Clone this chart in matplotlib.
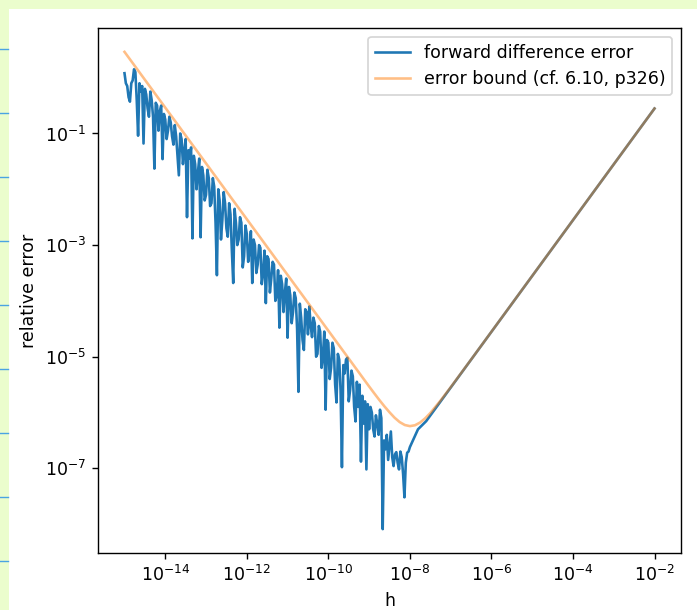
import numpy as np
import matplotlib
matplotlib.use("Agg")
import matplotlib.pyplot as plt
from matplotlib.patches import Rectangle
from matplotlib.lines import Line2D
from matplotlib.ticker import NullLocator

# step sizes for the noisy part: 1e-15 .. 1e-8, 30 per decade
h_noisy = np.logspace(-15, -8, 211)
err_log10_noisy = [
    0.08, -0.10, -0.15, -0.35, -0.43, -0.10, -0.05, 0.15, 0.10, -0.40,
    -1.04, -0.10, -0.25, -0.15, -1.18, -0.20, -0.30, -0.55, -0.70, -0.25,
    -0.40, -0.70, -1.63, -0.45, -0.50, -0.95, -0.60, -0.50, -1.46, -0.65,
    -0.75, -1.10, -0.95, -0.70, -0.80, -1.05, -1.20, -0.85, -1.05, -1.40,
    -1.75, -1.00, -1.10, -1.55, -1.30, -1.10, -2.50, -1.30, -1.45, -1.25,
    -2.88, -1.40, -1.55, -2.00, -1.70, -1.45, -2.86, -1.60, -1.75, -2.20,
    -2.10, -1.65, -1.80, -2.30, -2.25, -1.80, -1.95, -2.60, -3.54, -2.00,
    -2.20, -2.90, -2.55, -2.05, -2.25, -2.70, -2.85, -2.25, -2.45, -3.10,
    -3.68, -2.35, -2.60, -3.00, -2.90, -2.50, -2.60, -3.40, -3.20, -2.65,
    -2.80, -3.30, -3.10, -2.75, -3.68, -2.90, -3.00, -3.50, -3.35, -3.00,
    -3.05, -3.70, -3.50, -3.10, -4.04, -3.20, -3.25, -3.85, -3.60, -3.30,
    -3.35, -4.00, -3.90, -3.45, -4.48, -3.55, -3.70, -4.20, -3.85, -3.60,
    -4.66, -3.75, -3.90, -4.40, -4.20, -3.85, -3.95, -4.50, -5.63, -4.05,
    -4.30, -4.70, -4.88, -4.15, -4.20, -4.60, -4.10, -4.45, -4.65, -4.30,
    -4.40, -5.00, -4.95, -4.45, -4.55, -5.20, -5.00, -4.55, -5.95, -4.70,
    -4.75, -5.40, -5.20, -4.75, -4.85, -5.50, -5.82, -4.95, -5.05, -5.60,
    -6.98, -5.15, -5.30, -5.05, -5.02, -5.80, -5.60, -5.25, -5.35, -5.90,
    -6.16, -5.45, -5.90, -5.50, -6.88, -5.70, -6.20, -5.80, -7.02, -5.85,
    -6.30, -5.90, -6.00, -6.30, -6.43, -6.05, -6.20, -6.40, -5.95, -6.10,
    -8.09, -6.50, -6.66, -6.40, -6.85, -6.60, -6.34, -6.80, -6.96, -6.75,
    -6.71, -6.90, -7.02, -6.70, -6.80, -7.10, -7.52, -6.90, -6.72, -6.70,
    -6.62,
]
# smooth part where truncation error dominates
h_tail = [1.58e-8, 2.51e-8, 3.98e-8, 6.31e-8, 1e-7, 3.16e-7, 1e-6, 3.16e-6,
          1e-5, 3.16e-5, 1e-4, 3.16e-4, 1e-3, 3.16e-3, 1e-2]
err_tail = [5.0e-7, 7.0e-7, 1.11e-6, 1.76e-6, 2.8e-6, 8.85e-6, 2.8e-5, 8.85e-5,
            2.8e-4, 8.85e-4, 2.8e-3, 8.85e-3, 2.8e-2, 8.85e-2, 0.28]

# error bound curve
h_bound = [1e-15, 1e-9, 1.334e-9, 1.778e-9, 2.371e-9, 3.162e-9, 4.217e-9,
           5.623e-9, 7.499e-9, 1e-8, 1.334e-8, 1.778e-8, 2.371e-8, 3.162e-8,
           5.623e-8, 1e-7, 3.162e-7, 1e-6, 1e-2]
err_bound = [2.9, 2.93e-6, 2.21e-6, 1.68e-6, 1.29e-6, 1.01e-6, 8.06e-7,
             6.73e-7, 5.97e-7, 5.70e-7, 5.91e-7, 6.61e-7, 7.86e-7, 9.77e-7,
             1.63e-6, 2.83e-6, 8.86e-6, 2.80e-5, 0.28]

x_ticks = [1e-14, 1e-12, 1e-10, 1e-8, 1e-6, 1e-4, 1e-2]
y_ticks = [1e-1, 1e-3, 1e-5, 1e-7]

h_all = np.concatenate([h_noisy, h_tail])
err_all = np.concatenate([10.0 ** np.array(err_log10_noisy), err_tail])

W, H, DPI = 697, 610, 125
fig = plt.figure(figsize=(W / DPI, H / DPI), dpi=DPI, facecolor='#ebfdcd')
fig.patches.append(Rectangle((9 / W, 0), 1, 1 - 9 / H, transform=fig.transFigure,
                             facecolor='white', edgecolor='none', zorder=-10))
for y in range(49, 610, 64):
    fig.add_artist(Line2D([0, 8 / W], [1 - y / H, 1 - y / H],
                          transform=fig.transFigure, color='#4ba3e3', lw=0.8))

ax = fig.add_axes([98 / W, 1 - 553 / H, (681 - 98) / W, (553 - 28) / H])
ax.loglog(h_all, err_all, color='#1f77b4', lw=1.5, label='forward difference error')
ax.loglog(h_bound, err_bound, color='#ff7f0e', lw=1.5, alpha=0.5,
          label='error bound (cf. 6.10, p326)')
ax.set_xticks(x_ticks)
ax.set_yticks(y_ticks)
ax.xaxis.set_minor_locator(NullLocator())
ax.yaxis.set_minor_locator(NullLocator())
ax.set_xlabel('h')
ax.set_ylabel('relative error')
ax.legend(loc='upper right')

fig.savefig('out.png', dpi=DPI, facecolor=fig.get_facecolor())
